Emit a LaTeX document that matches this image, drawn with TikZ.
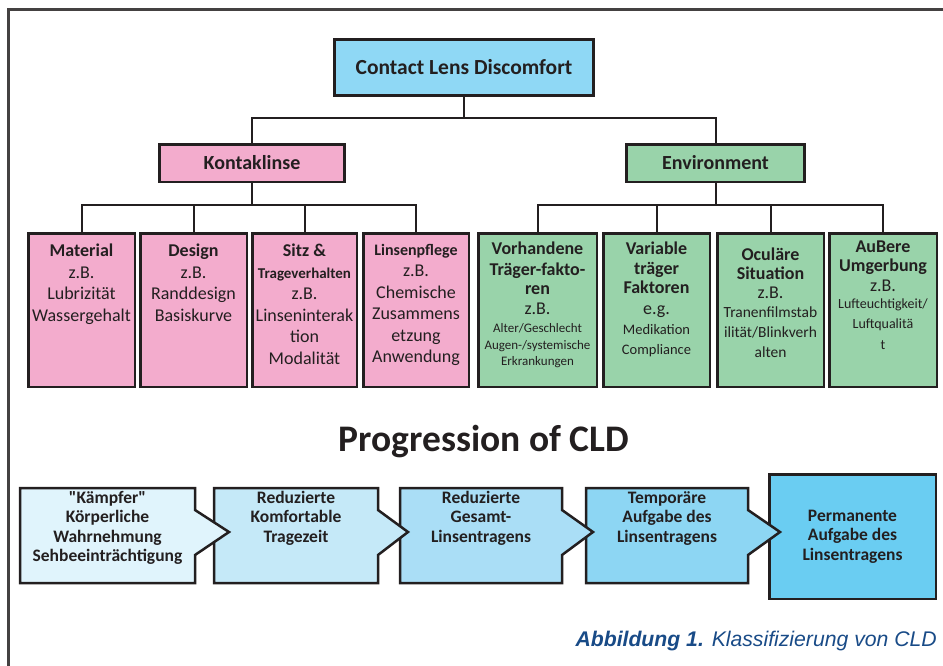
\documentclass[tikz,border=0pt]{standalone}
\usepackage{fontspec}
\setmainfont{Carlito}
\newfontfamily\unterschriftfont{Liberation Sans}

\definecolor{hellblau}{RGB}{143,216,245}
\definecolor{rosa}{RGB}{243,172,205}
\definecolor{gruen}{RGB}{153,211,170}
\definecolor{stufeA}{RGB}{224,244,252}
\definecolor{stufeB}{RGB}{197,233,248}
\definecolor{stufeC}{RGB}{170,222,246}
\definecolor{stufeD}{RGB}{141,214,243}
\definecolor{stufeE}{RGB}{106,205,242}
\definecolor{schrift}{RGB}{35,31,32}
\definecolor{titelblau}{RGB}{25,75,135}

\newcommand{\kopf}[1]{{\bfseries #1}}
\newcommand{\gross}{\fontsize{18}{21.5}\selectfont}
% kleinere Zeilen in den Kaesten, Groesse als erstes Argument
\newcommand{\klein}[2]{{\fontsize{#1}{#1}\selectfont #2}}

\tikzset{
  kasten/.style={draw=schrift, line width=2.5pt, inner sep=0pt, text=schrift},
  linie/.style={draw=schrift, line width=2pt},
  kastentext/.style={anchor=north, align=center, inner sep=0pt, text=schrift, font=\gross},
  pfeilkasten/.style={draw=schrift, line width=2.5pt, line join=miter},
  pfeiltext/.style={anchor=north, align=center, inner sep=0pt, text=schrift,
    font=\bfseries\fontsize{17.5}{19.5}\selectfont},
}

\begin{document}
\begin{tikzpicture}[x=1pt, y=-1pt]
	\useasboundingbox (0,0) rectangle (943,665);
	% Rahmen, nur links und oben sichtbar
	\draw[draw=schrift!85, line width=3pt] (8.5,700) -- (8.5,9.5) -- (980,9.5);

	% Wurzel
	\node[kasten, fill=hellblau, minimum width=259pt, minimum height=56pt,
		font=\bfseries\fontsize{21.5}{25}\selectfont] (cld) at (464,67.5) {Contact Lens Discomfort};
	% zweite Ebene
	\node[kasten, fill=rosa, minimum width=185pt, minimum height=37.5pt,
		font=\bfseries\fontsize{20}{24}\selectfont] (kl) at (252,163) {Kontaklinse};
	\node[kasten, fill=gruen, minimum width=178pt, minimum height=37.5pt,
		font=\bfseries\fontsize{20}{24}\selectfont] (env) at (715.5,163) {Environment};
	\coordinate (a0) at (464,118);
	\draw[linie] (cld.south) -- (a0);
	\draw[linie] (kl.north) |- (a0) -| (env.north);

	% dritte Ebene: Kaesten
	\foreach \n/\xa/\xb/\f in {m1/27/136/rosa, m2/139/248/rosa, m3/251/358/rosa, m4/362/470/rosa,
		g1/477/598/gruen, g2/602/711/gruen, g3/716/825/gruen, g4/828/938/gruen}
		\node[kasten, fill=\f, minimum width={(\xb-\xa-2.5)*1pt}, minimum height=153.5pt]
			(\n) at ({(\xa+\xb)/2},310) {};

	% Aeste
	\path (kl.south) ++(0,22) coordinate (ak);
	\path (env.south) ++(0,22) coordinate (ae);
	\draw[linie] (kl.south) -- (ak);
	\draw[linie] (env.south) -- (ae);
	\draw[linie] (m1.north) |- (m4.north |- ak) -- (m4.north);
	\draw[linie] (g1.north) |- (g4.north |- ae) -- (g4.north);
	\foreach \i in {2,3} {
		\draw[linie] (m\i.north) -- (m\i.north |- ak);
		\draw[linie] (g\i.north) -- (g\i.north |- ae);
	}

	% Texte Kontaklinse
	\node[kastentext] (m1t) at ([yshift=-12pt]m1.north) {\kopf{Material}\\z.B.\\Lubrizität\\Wassergehalt};
	\node[kastentext] (m2t) at ([yshift=-12pt]m2.north) {\kopf{Design}\\z.B.\\Randdesign\\Basiskurve};
	\node[kastentext] (m3t) at ([yshift=-12pt]m3.north)
		{\kopf{Sitz \&}\\{\fontsize{15}{21.5}\selectfont\bfseries Trageverhalten}\\z.B.\\Linseninterak\\tion\\Modalität};
	\node[kastentext] (m4t) at ([yshift=-12pt]m4.north)
		{{\fontsize{16}{21.5}\selectfont\bfseries Linsenpflege}\\z.B.\\Chemische\\Zusammens\\etzung\\Anwendung};
	% Texte Environment
	\node[kastentext] (g1t) at ([yshift=-10pt]g1.north)
		{\kopf{Vorhandene}\\[-1pt]\kopf{Träger-fakto-}\\[-2pt]\kopf{ren}\\[-2pt]z.B.\\[-3pt]
		\klein{13}{Alter/Geschlecht}\\[-5pt]\klein{13}{Augen-/systemische}\\[-5pt]\klein{13}{Erkrankungen}};
	\node[kastentext] (g2t) at ([yshift=-10pt]g2.north)
		{\kopf{Variable}\\[-2pt]\kopf{träger}\\[-2pt]\kopf{Faktoren}\\[-1pt]e.g.\\[-1pt]
		\klein{14.5}{Medikation}\\[-2pt]\klein{14.5}{Compliance}};
	\node[kastentext] (g3t) at ([yshift=-16pt]g3.north)
		{\kopf{Oculäre}\\[-3pt]\kopf{Situation}\\[-2pt]z.B.\\[-3pt]
		\klein{15.5}{Tranenfilmstab}\\[-1pt]\klein{15.5}{ilität/Blinkverh}\\[-2pt]\klein{15.5}{alten}};
	\node[kastentext] (g4t) at ([yshift=-9pt]g4.north)
		{\kopf{AuBere}\\[-3pt]\kopf{Umgerbung}\\[-1pt]z.B.\\[-5pt]
		\klein{14}{Lufteuchtigkeit/}\\[-1pt]\klein{14}{Luftqualitä}\\[-1pt]\klein{14}{t}};

	% Ueberschrift
	\node[anchor=base, text=schrift, font=\bfseries\fontsize{37.5}{44}\selectfont] (titel) at (484,451) {Progression of CLD};

	% Stufen, von rechts nach links damit die Spitzen oben liegen
	\node[kasten, fill=stufeE, minimum width=166.5pt, minimum height=124.5pt] (p5) at (852.5,536.5) {};
	\foreach \xa/\xb/\xs/\f in {586/748/780/stufeD, 400/562/593/stufeC, 214/378/408/stufeB, 20/195/229/stufeA}
		\draw[pfeilkasten, fill=\f] (\xa,488) -- (\xb,488) -- (\xb,510) -- (\xs,532)
			-- (\xb,555) -- (\xb,583) -- (\xa,583) -- cycle;
	\node[pfeiltext] (p1) at (107.5,491) {\textquotedbl Kämpfer\textquotedbl\\Körperliche\\Wahrnehmung\\Sehbeeinträchtigung};
	\node[pfeiltext] (p2) at (296,491) {Reduzierte\\Komfortable\\Tragezeit};
	\node[pfeiltext] (p3) at (481,491) {Reduzierte\\Gesamt-\\Linsentragens};
	\node[pfeiltext] (p4) at (667,491) {Temporäre\\Aufgabe des\\Linsentragens};
	\node[pfeiltext, anchor=center] (p5t) at (p5) {Permanente\\Aufgabe des\\Linsentragens};

	% Bildunterschrift
	\node[anchor=base east, inner sep=0pt, text=titelblau, font=\unterschriftfont\itshape\fontsize{21.2}{25}\selectfont]
		(bild) at (937,646) {\textbf{Abbildung 1.} Klassifizierung von CLD};
\end{tikzpicture}
\end{document}
